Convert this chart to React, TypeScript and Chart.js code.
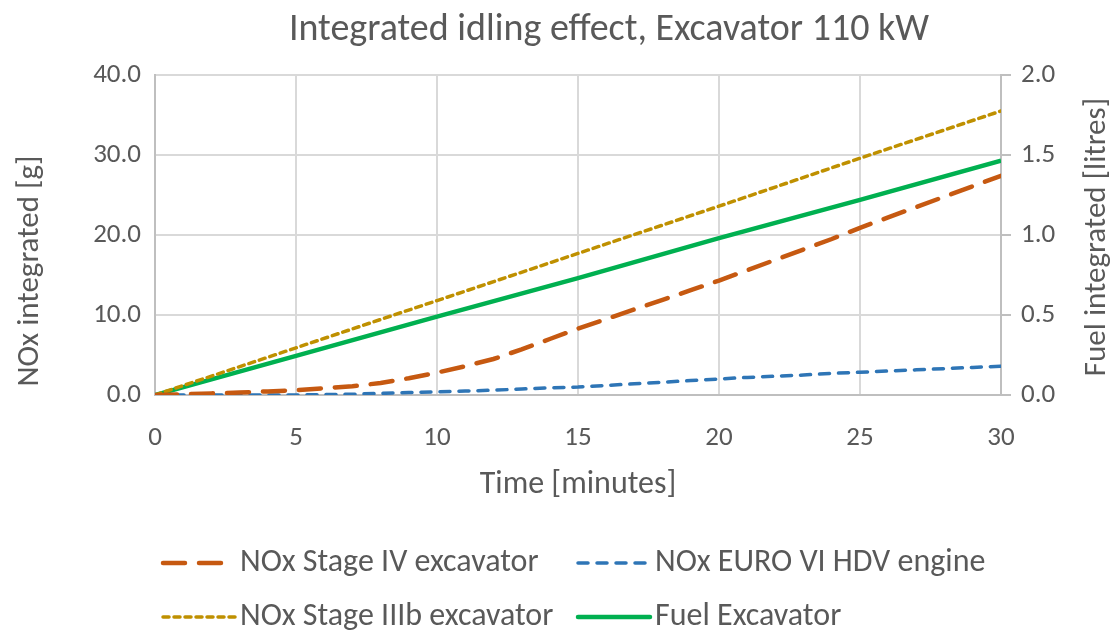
import { useEffect, useRef } from "react";
import { Chart, registerables } from "chart.js";

Chart.register(...registerables);

// Elapsed idling time (minutes)
const minutes: number[] = [
  0, 1, 2, 3, 4, 5, 6, 7, 8, 9, 10, 11, 12, 13, 14, 15,
  16, 17, 18, 19, 20, 21, 22, 23, 24, 25, 26, 27, 28, 29, 30,
];

// Integrated NOx [g], Stage IV excavator
const noxStageIV: number[] = [
  0, 0.1, 0.2, 0.3, 0.45, 0.6, 0.85, 1.1, 1.5, 2.1, 2.8, 3.6, 4.5, 5.7, 7.0, 8.3,
  9.5, 10.7, 11.9, 13.1, 14.3, 15.6, 16.9, 18.2, 19.5, 20.9, 22.2, 23.5, 24.8, 26.1, 27.4,
];

// Integrated NOx [g], EURO VI HDV engine
const noxEuroVI: number[] = [
  0, 0, 0, 0, 0, 0, 0.05, 0.1, 0.2, 0.3, 0.4, 0.5, 0.6, 0.75, 0.9, 1.0,
  1.2, 1.4, 1.6, 1.8, 2.0, 2.2, 2.35, 2.5, 2.7, 2.85, 3.0, 3.15, 3.3, 3.45, 3.6,
];

// Integrated NOx [g], Stage IIIb excavator (sampled every 5 minutes)
const minutes5: number[] = [0, 5, 10, 15, 20, 25, 30];
const noxStageIIIb: number[] = [0, 5.9, 11.8, 17.7, 23.6, 29.6, 35.5];

// Integrated fuel [litres], excavator (sampled every 5 minutes)
const fuelExcavator: number[] = [0, 0.245, 0.49, 0.73, 0.98, 1.22, 1.465];

const chartTitle = "Integrated idling effect, Excavator 110 kW";
const xTitle = "Time [minutes]";
const yLeftTitle = "NOx integrated [g]";
const yRightTitle = "Fuel integrated [litres]";

const FONT = "Carlito, 'Liberation Sans Narrow', Lato, sans-serif";
const TEXT = "#595959";

const pairs = (xs: number[], ys: number[]) => xs.map((x, i) => ({ x, y: ys[i] }));

// Title, vertical axis titles and the two-column legend, drawn onto the canvas
const decorations = {
  id: "decorations",
  afterDraw(chart: any) {
    const ctx = chart.ctx as CanvasRenderingContext2D;
    ctx.save();
    ctx.fillStyle = TEXT;
    ctx.textAlign = "center";
    ctx.textBaseline = "middle";

    ctx.font = `38px ${FONT}`;
    ctx.fillText(chartTitle, 609, 30);

    // Both axis titles read bottom-to-top
    ctx.font = `31px ${FONT}`;
    ctx.save();
    ctx.translate(30, 271);
    ctx.rotate(-Math.PI / 2);
    ctx.fillText(yLeftTitle, 0, 0);
    ctx.restore();
    ctx.save();
    ctx.translate(1097, 237);
    ctx.rotate(-Math.PI / 2);
    ctx.fillText(yRightTitle, 0, 0);
    ctx.restore();

    const slots = [
      { x: 163, y: 563 },
      { x: 578, y: 563 },
      { x: 163, y: 617 },
      { x: 578, y: 617 },
    ];
    ctx.font = `32px ${FONT}`;
    ctx.textAlign = "left";
    chart.data.datasets.forEach((ds: any, i: number) => {
      const s = slots[i];
      ctx.save();
      ctx.strokeStyle = ds.borderColor;
      ctx.lineWidth = ds.borderWidth;
      ctx.lineCap = "round";
      ctx.setLineDash(ds.borderDash || []);
      ctx.beginPath();
      ctx.moveTo(s.x, s.y);
      ctx.lineTo(s.x + 72, s.y);
      ctx.stroke();
      ctx.restore();
      ctx.fillStyle = TEXT;
      ctx.fillText(ds.label, s.x + 77, s.y);
    });
    ctx.restore();
  },
};

export default function App() {
  const ref = useRef<HTMLCanvasElement>(null);

  useEffect(() => {
    if (!ref.current) return;
    const chart = new Chart(ref.current, {
      type: "line",
      data: {
        datasets: [
          {
            label: "NOx Stage IV excavator",
            data: pairs(minutes, noxStageIV),
            borderColor: "#C65911",
            borderWidth: 4.5,
            borderDash: [22, 14],
            borderCapStyle: "round",
            yAxisID: "y",
            pointRadius: 0,
            tension: 0,
          },
          {
            label: "NOx EURO VI HDV engine",
            data: pairs(minutes, noxEuroVI),
            borderColor: "#2E75B6",
            borderWidth: 3.5,
            borderDash: [10, 9],
            borderCapStyle: "round",
            yAxisID: "y",
            pointRadius: 0,
            tension: 0,
          },
          {
            label: "NOx Stage IIIb excavator",
            data: pairs(minutes5, noxStageIIIb),
            borderColor: "#BF9000",
            borderWidth: 3.5,
            borderDash: [6, 5],
            borderCapStyle: "round",
            yAxisID: "y",
            pointRadius: 0,
            tension: 0,
          },
          {
            label: "Fuel Excavator",
            data: pairs(minutes5, fuelExcavator),
            borderColor: "#00B050",
            borderWidth: 4.5,
            yAxisID: "y1",
            pointRadius: 0,
            tension: 0,
          },
        ],
      },
      options: {
        animation: false,
        responsive: false,
        layout: { padding: { top: 75, bottom: 126, left: 0, right: 0 } },
        plugins: {
          legend: { display: false },
          title: { display: false },
          tooltip: { enabled: false },
        },
        scales: {
          x: {
            type: "linear",
            min: 0,
            max: 30,
            ticks: {
              stepSize: 5,
              color: TEXT,
              font: { family: FONT, size: 27 },
              padding: 27,
            },
            grid: { color: "#D9D9D9", lineWidth: 2, drawTicks: false },
            border: { color: "#BFBFBF", width: 2 },
            title: {
              display: true,
              text: xTitle,
              color: TEXT,
              font: { family: FONT, size: 32 },
              padding: { top: 0, bottom: 1 },
            },
            afterFit: (s: any) => {
              s.height = 110;
            },
          },
          y: {
            position: "left",
            min: 0,
            max: 40,
            ticks: {
              stepSize: 10,
              color: TEXT,
              font: { family: FONT, size: 27 },
              padding: 14,
              callback: (v: any) => Number(v).toFixed(1),
            },
            grid: { color: "#D9D9D9", lineWidth: 2, drawTicks: false },
            border: { color: "#BFBFBF", width: 2 },
            afterFit: (s: any) => {
              s.width = 155;
            },
          },
          y1: {
            position: "right",
            min: 0,
            max: 2,
            ticks: {
              stepSize: 0.5,
              color: TEXT,
              font: { family: FONT, size: 27 },
              padding: 10,
              callback: (v: any) => Number(v).toFixed(1),
            },
            grid: {
              drawOnChartArea: false,
              color: "#BFBFBF",
              lineWidth: 2,
              tickLength: 10,
            },
            border: { color: "#BFBFBF", width: 2 },
            afterFit: (s: any) => {
              s.width = 114;
            },
          },
        },
      },
      plugins: [decorations],
    });
    return () => chart.destroy();
  }, []);

  return (
    <div style={{ position: "fixed", left: 0, top: 0, width: 1115, height: 631, background: "#fff" }}>
      <canvas ref={ref} width={1115} height={631} />
    </div>
  );
}
